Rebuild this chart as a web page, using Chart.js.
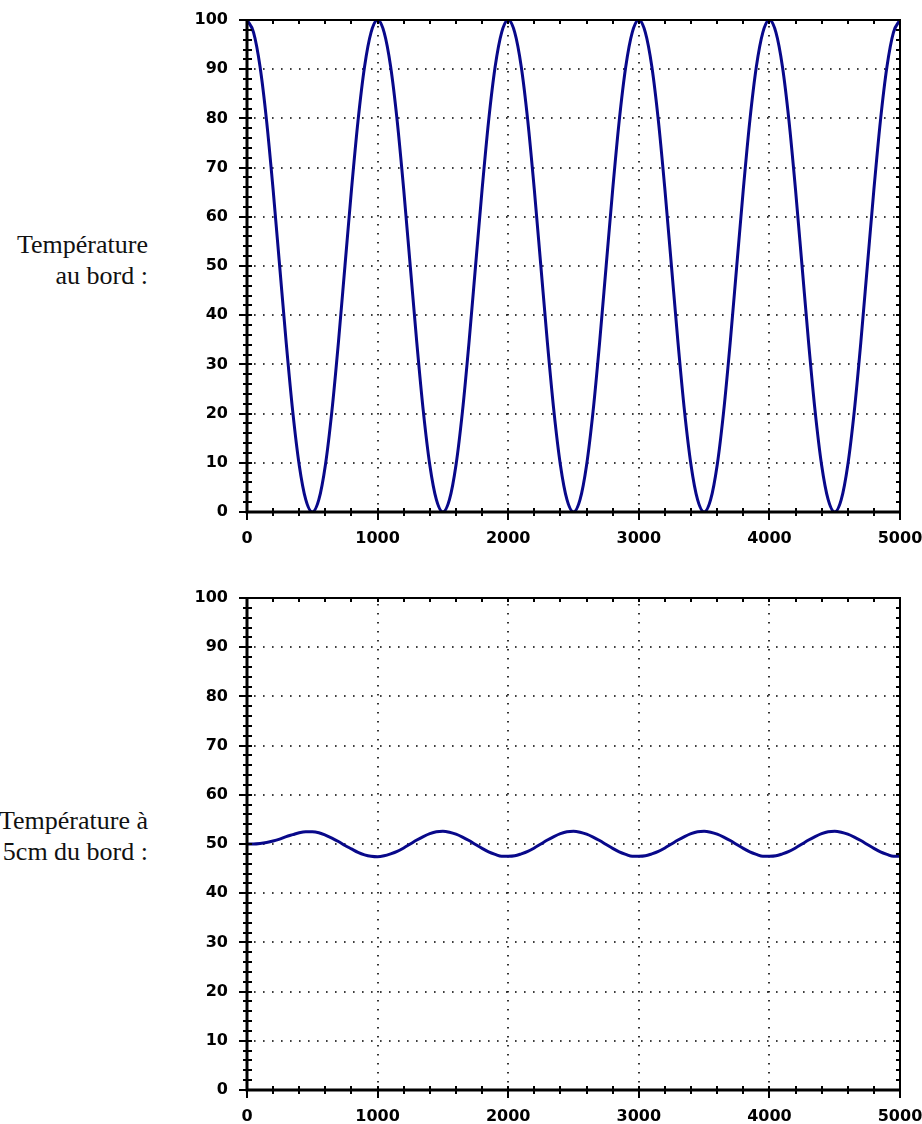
<!DOCTYPE html>
<html>
<head>
<meta charset="utf-8">
<script src="https://cdn.jsdelivr.net/npm/chart.js@4/dist/chart.umd.min.js"></script>
<style>
  html, body { margin:0; padding:0; background:#fff; overflow:hidden; }
  #wrap { position:relative; width:922px; height:1124px; }
  .lbl { position:absolute; right:774px; text-align:right; white-space:nowrap;
         font-family:"Liberation Serif","Times New Roman",serif; font-size:26px; line-height:31px; color:#111; }
  canvas { position:absolute; left:0; }
</style>
</head>
<body>
<div id="wrap">
  <div class="lbl" style="top:229px;">Température<br>au bord :</div>
  <div class="lbl" style="top:805px;">Température à<br>5cm du bord :</div>
  <canvas id="c1" width="922" height="560" style="top:0;width:922px;height:560px;"></canvas>
  <canvas id="c2" width="922" height="546" style="top:578px;width:922px;height:546px;"></canvas>
</div>
<script>
// ---- data ----
const timeSteps = [0,50,100,150,200,250,300,350,400,450,500,550,600,650,700,750,800,850,900,950,
  1000,1050,1100,1150,1200,1250,1300,1350,1400,1450,1500,1550,1600,1650,1700,1750,1800,1850,1900,1950,
  2000,2050,2100,2150,2200,2250,2300,2350,2400,2450,2500,2550,2600,2650,2700,2750,2800,2850,2900,2950,
  3000,3050,3100,3150,3200,3250,3300,3350,3400,3450,3500,3550,3600,3650,3700,3750,3800,3850,3900,3950,
  4000,4050,4100,4150,4200,4250,4300,4350,4400,4450,4500,4550,4600,4650,4700,4750,4800,4850,4900,4950,5000];

const tempEdge = [100,97.5,90.5,79.5,65.5,50,34.5,20.5,9.5,2.5,0,2.5,9.5,20.5,34.5,50,65.5,79.5,90.5,97.5,
  100,97.5,90.5,79.5,65.5,50,34.5,20.5,9.5,2.5,0,2.5,9.5,20.5,34.5,50,65.5,79.5,90.5,97.5,
  100,97.5,90.5,79.5,65.5,50,34.5,20.5,9.5,2.5,0,2.5,9.5,20.5,34.5,50,65.5,79.5,90.5,97.5,
  100,97.5,90.5,79.5,65.5,50,34.5,20.5,9.5,2.5,0,2.5,9.5,20.5,34.5,50,65.5,79.5,90.5,97.5,
  100,97.5,90.5,79.5,65.5,50,34.5,20.5,9.5,2.5,0,2.5,9.5,20.5,34.5,50,65.5,79.5,90.5,97.5,100];

const temp5cm = [50.0,50.0,50.1,50.3,50.6,51.0,51.5,51.9,52.3,52.5,52.5,52.3,51.8,51.2,50.5,49.7,49.0,48.3,47.8,47.5,
  47.4,47.6,48.0,48.5,49.2,50.0,50.8,51.5,52.1,52.5,52.6,52.4,52.0,51.4,50.7,49.9,49.1,48.4,47.9,47.5,
  47.5,47.6,48.0,48.5,49.2,50.0,50.8,51.5,52.1,52.5,52.6,52.4,52.0,51.4,50.7,49.9,49.1,48.4,47.9,47.5,
  47.5,47.6,48.0,48.5,49.2,50.0,50.8,51.5,52.1,52.5,52.6,52.4,52.0,51.4,50.7,49.9,49.1,48.4,47.9,47.5,
  47.5,47.6,48.0,48.5,49.2,50.0,50.8,51.5,52.1,52.5,52.6,52.4,52.0,51.4,50.7,49.9,49.1,48.4,47.9,47.5,47.5];

const xTickLabels = [0,1000,2000,3000,4000,5000];
const yTickLabels = [0,10,20,30,40,50,60,70,80,90,100];
const xMinorStep = 200;
const yMinorStep = 2;

// ---- styling ----
const tickFont = { family:'"DejaVu Sans", sans-serif', size:16, weight:'bold' };
const lineColor = '#08088A';

const framePlugin = {
  id:'frame',
  beforeDatasetsDraw(chart){
    const {ctx, chartArea:a, scales:{x, y}} = chart;
    ctx.save();
    ctx.strokeStyle = '#000';
    ctx.lineWidth = 1.6;
    ctx.setLineDash([1.6, 7.4]);
    yTickLabels.forEach(v => {
      if (v <= y.min || v >= y.max) return;
      const py = Math.round(y.getPixelForValue(v));
      ctx.beginPath(); ctx.moveTo(a.left + 7, py); ctx.lineTo(a.right - 2, py); ctx.stroke();
    });
    xTickLabels.forEach(v => {
      if (v <= x.min || v >= x.max) return;
      const px = Math.round(x.getPixelForValue(v));
      ctx.beginPath(); ctx.moveTo(px, a.top + 6); ctx.lineTo(px, a.bottom - 2); ctx.stroke();
    });
    ctx.restore();
  },
  afterDatasetsDraw(chart){
    const {ctx, chartArea:a, scales:{x, y}} = chart;
    ctx.save();
    ctx.strokeStyle = '#000';
    ctx.setLineDash([]);
    ctx.lineWidth = 2;
    ctx.beginPath();
    ctx.moveTo(a.left, a.top); ctx.lineTo(a.right, a.top); ctx.lineTo(a.right, a.bottom);
    ctx.stroke();
    ctx.lineWidth = 3;
    ctx.beginPath();
    ctx.moveTo(a.left, a.top - 1); ctx.lineTo(a.left, a.bottom); ctx.lineTo(a.right + 1, a.bottom);
    ctx.stroke();
    ctx.lineWidth = 2;
    for (let v = y.min; v <= y.max; v += yMinorStep) {
      const py = Math.round(y.getPixelForValue(v));
      const major = yTickLabels.includes(v);
      ctx.beginPath();
      ctx.moveTo(a.left - (major ? 8 : 4), py); ctx.lineTo(a.left + 5, py);
      ctx.moveTo(a.right - 4, py); ctx.lineTo(a.right, py);
      ctx.stroke();
    }
    for (let v = x.min; v <= x.max; v += xMinorStep) {
      const px = Math.round(x.getPixelForValue(v));
      const major = xTickLabels.includes(v);
      ctx.beginPath();
      ctx.moveTo(px, a.bottom - 4); ctx.lineTo(px, a.bottom + (major ? 8 : 4));
      ctx.moveTo(px, a.top); ctx.lineTo(px, a.top + 4);
      ctx.stroke();
    }
    ctx.restore();
  }
};

function zeroPad(s){ s.paddingTop = 0; s.paddingBottom = 0; s.paddingLeft = 0; s.paddingRight = 0; }

function makeChart(id, values, xAxisHeight){
  const pts = timeSteps.map((t, i) => ({x:t, y:values[i]}));
  return new Chart(document.getElementById(id), {
    type:'line',
    data:{ datasets:[{ data:pts, borderColor:lineColor, borderWidth:3, pointRadius:0,
                       cubicInterpolationMode:'monotone', fill:false }] },
    options:{
      responsive:false, animation:false,
      layout:{ padding:{ top:20, right:22, left:0, bottom:0 } },
      plugins:{ legend:{display:false}, tooltip:{enabled:false} },
      scales:{
        x:{ type:'linear', min:0, max:5000,
            afterBuildTicks(s){ s.ticks = xTickLabels.map(v => ({value:v})); },
            ticks:{ font:tickFont, color:'#000', padding:17, autoSkip:false, maxRotation:0, minRotation:0,
                    callback:(v) => String(v) },
            grid:{ display:false, drawTicks:false }, border:{ display:false },
            afterFit(s){ s.height = xAxisHeight; zeroPad(s); } },
        y:{ min:0, max:100,
            afterBuildTicks(s){ s.ticks = yTickLabels.map(v => ({value:v})); },
            ticks:{ font:tickFont, color:'#000', padding:19, callback:(v) => String(v) },
            grid:{ display:false, drawTicks:false }, border:{ display:false },
            afterFit(s){ s.width = 247; zeroPad(s); } }
      }
    },
    plugins:[framePlugin]
  });
}

makeChart('c1', tempEdge, 48);
makeChart('c2', temp5cm, 34);
</script>
</body>
</html>
